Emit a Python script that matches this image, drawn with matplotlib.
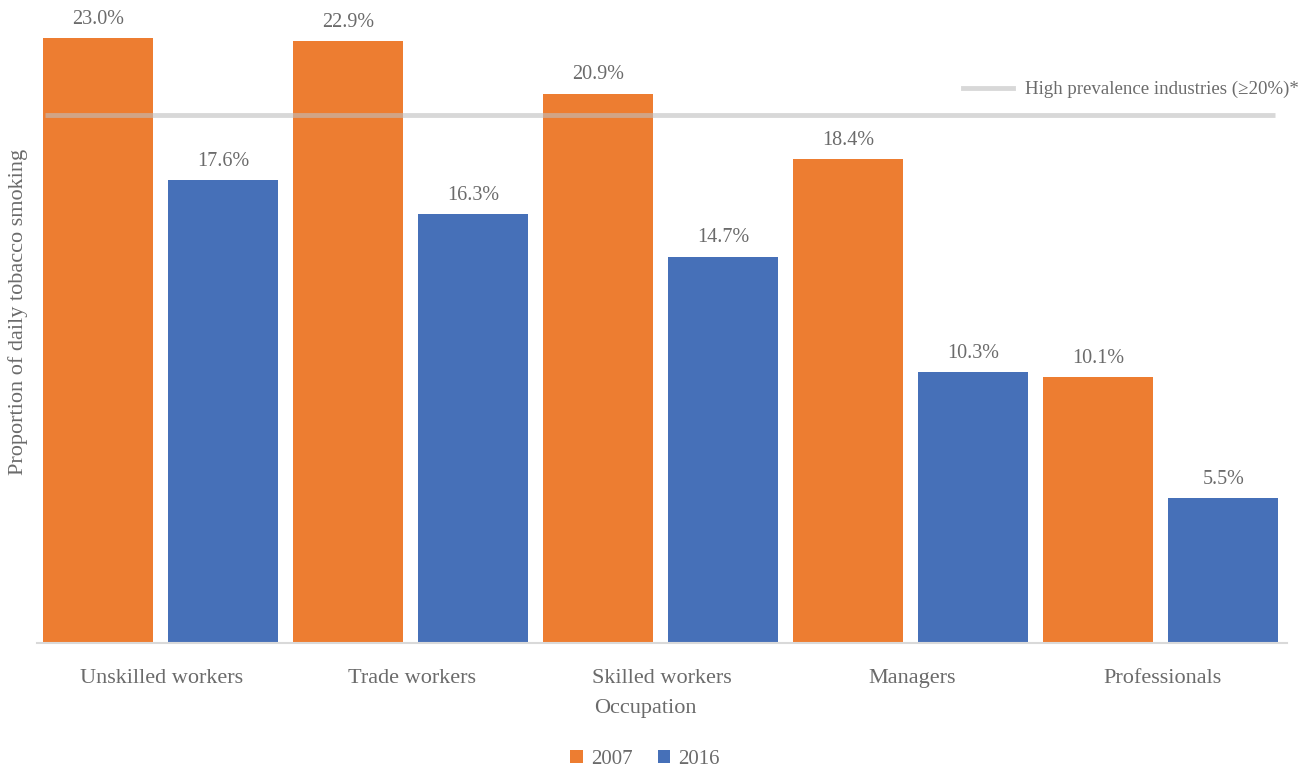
import matplotlib.pyplot as plt
import numpy as np
from matplotlib.lines import Line2D

plt.rcParams['font.family'] = ['Liberation Serif', 'DejaVu Serif']

occupations = ['Unskilled workers', 'Trade workers', 'Skilled workers', 'Managers', 'Professionals']
vals_2007 = [23.0, 22.9, 20.9, 18.4, 10.1]
vals_2016 = [17.6, 16.3, 14.7, 10.3, 5.5]
threshold = 20.0

c07 = '#ED7D31'
c16 = '#4670B8'
grey = '#6b6b6b'

fig = plt.figure(figsize=(13.11, 7.69), dpi=100)
ax = fig.add_axes([37/1311, 1-643/769, 1250/1311, 631/769])

x = np.arange(len(occupations)) * 2
b1 = ax.bar(x + 0.49, vals_2007, width=0.88, color=c07, label='2007', zorder=2)
b2 = ax.bar(x + 1.49, vals_2016, width=0.88, color=c16, label='2016', zorder=2)

# value labels above bars
for bars, vals in [(b1, vals_2007), (b2, vals_2016)]:
    for r, v in zip(bars, vals):
        ax.annotate(f'{v:.1f}%', (r.get_x() + r.get_width()/2, v),
                    xytext=(0, 6.5), textcoords='offset points',
                    ha='center', va='bottom', fontsize=14.5, color=grey)

ax.hlines(threshold + 0.07, 0.06, 9.9, color='#bfbfbf', alpha=0.6, lw=3.5, zorder=3)

ax.set_xlim(0, 10)
ax.set_ylim(0, 24)
ax.set_xticks(x + 1)
ax.set_xticklabels(occupations, fontsize=16, color=grey)
ax.tick_params(axis='x', length=0, pad=19)
ax.set_yticks([])
for s in ['top', 'right', 'left']:
    ax.spines[s].set_visible(False)
ax.spines['bottom'].set_color('#d9d9d9')
ax.spines['bottom'].set_linewidth(1.5)

h_line = Line2D([], [], color='#bfbfbf', alpha=0.6, lw=3.5)
ax.legend([h_line], ['High prevalence industries (\u226520%)*'], loc='upper right',
          bbox_to_anchor=(1316/1311, 1-64/769), bbox_transform=fig.transFigure,
          frameon=False, fontsize=13.6, labelcolor=grey, handlelength=2.65, handletextpad=0.64)

fig.text(645/1311, 1-709/769, 'Occupation', ha='center', va='center', fontsize=16, color=grey)
fig.text(18/1311, 1-312/769, 'Proportion of daily tobacco smoking', ha='center', va='center',
         rotation=90, fontsize=16, color=grey)

fig.legend([b1, b2], ['2007', '2016'], loc='center', bbox_to_anchor=(645/1311, 1-759/769),
           ncol=2, frameon=False, fontsize=15, labelcolor=grey, handlelength=0.6,
           handleheight=0.6, handletextpad=0.4, columnspacing=1.2)

fig.savefig('out.png', dpi=100)
